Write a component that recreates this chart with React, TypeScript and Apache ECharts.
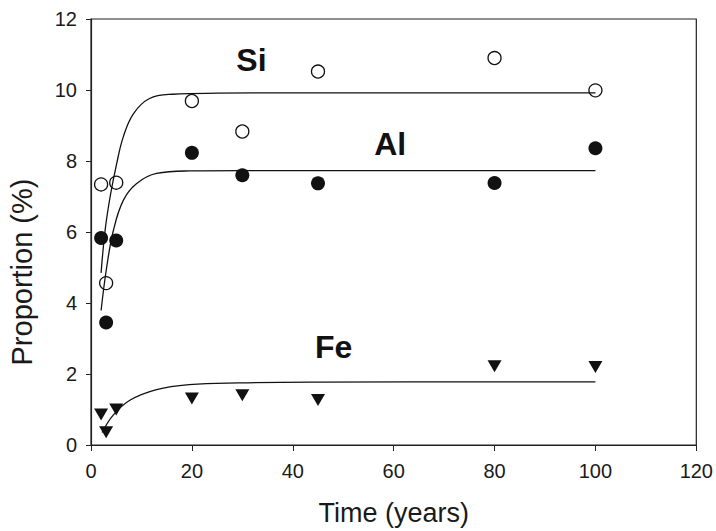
import React, { useEffect, useRef } from "react";
import * as echarts from "echarts";

const xTicks = [0, 20, 40, 60, 80, 100, 120];
const yTicks = [0, 2, 4, 6, 8, 10, 12];

const years = [2, 3, 5, 20, 30, 45, 80, 100];
const siValues = [7.34, 4.56, 7.39, 9.69, 8.83, 10.52, 10.9, 9.99];
const alValues = [5.83, 3.45, 5.76, 8.23, 7.6, 7.37, 7.38, 8.36];
const feValues = [0.86, 0.36, 1.0, 1.31, 1.4, 1.27, 2.22, 2.2];

const siFitX = [2, 2.8, 3.8, 5.1, 6.4, 8.4, 11.6, 16.2, 25, 40, 100];
const siFitY = [4.85, 6.05, 7.0, 7.93, 8.68, 9.33, 9.76, 9.88, 9.91, 9.92, 9.92];
const alFitX = [2, 3.1, 4.45, 6.4, 9, 13, 19.5, 30, 100];
const alFitY = [3.79, 5.0, 6.05, 6.89, 7.36, 7.65, 7.72, 7.73, 7.73];
const feFitX = [2.2, 4.4, 7.7, 13, 19.5, 29.3, 45, 100];
const feFitY = [0.35, 0.84, 1.26, 1.56, 1.7, 1.75, 1.77, 1.78];

const labels = [
  { text: "Si", x: 31.8, y: 10.85 },
  { text: "Al", x: 59.3, y: 8.48 },
  { text: "Fe", x: 48.1, y: 2.76 },
];

const pairs = (xs: number[], ys: number[]) => xs.map((x, i) => [x, ys[i]]);

export default function App() {
  const ref = useRef<HTMLDivElement>(null);
  useEffect(() => {
    if (!ref.current) return;
    const chart = echarts.init(ref.current, undefined, { renderer: "svg" });
    const font = "Liberation Sans, Arial, sans-serif";
    const fitStyle = { color: "#111", width: 1.3 };
    chart.setOption({
      animation: false,
      backgroundColor: "#fff",
      grid: {
        left: 91,
        right: 14,
        top: 19,
        bottom: 86,
        show: true,
        borderColor: "#222",
        borderWidth: 1.2,
        backgroundColor: "transparent",
      },
      xAxis: {
        type: "value",
        min: xTicks[0],
        max: xTicks[xTicks.length - 1],
        interval: xTicks[1] - xTicks[0],
        splitLine: { show: false },
        axisLine: { lineStyle: { color: "#222", width: 1.2 } },
        axisTick: { inside: false, length: 6, lineStyle: { color: "#222" } },
        axisLabel: { color: "#1a1a1a", fontSize: 20, fontFamily: font, margin: 16 },
        name: "Time (years)",
        nameLocation: "middle",
        nameGap: 54,
        nameTextStyle: { color: "#1a1a1a", fontSize: 27, fontFamily: font },
      },
      yAxis: {
        type: "value",
        min: yTicks[0],
        max: yTicks[yTicks.length - 1],
        interval: yTicks[1] - yTicks[0],
        splitLine: { show: false },
        axisLine: { lineStyle: { color: "#222", width: 1.2 } },
        axisTick: { inside: false, length: 5, lineStyle: { color: "#222" } },
        axisLabel: { color: "#1a1a1a", fontSize: 20, fontFamily: font, margin: 14 },
      },
      graphic: [
        {
          type: "text",
          x: 22,
          y: 272,
          rotation: Math.PI / 2,
          style: {
            text: "Proportion (%)",
            fill: "#1a1a1a",
            fontSize: 29,
            fontFamily: font,
            align: "center",
            verticalAlign: "middle",
          },
        },
      ],
      series: [
        {
          type: "line",
          data: pairs(siFitX, siFitY),
          smooth: 0.4,
          showSymbol: false,
          lineStyle: fitStyle,
          silent: true,
        },
        {
          type: "line",
          data: pairs(alFitX, alFitY),
          smooth: 0.4,
          showSymbol: false,
          lineStyle: fitStyle,
          silent: true,
        },
        {
          type: "line",
          data: pairs(feFitX, feFitY),
          smooth: 0.4,
          showSymbol: false,
          lineStyle: fitStyle,
          silent: true,
        },
        {
          name: "Si",
          type: "scatter",
          data: pairs(years, siValues),
          symbol: "circle",
          symbolSize: 13,
          itemStyle: { color: "#fff", borderColor: "#111", borderWidth: 1.3, opacity: 1 },
        },
        {
          name: "Al",
          type: "scatter",
          data: pairs(years, alValues),
          symbol: "circle",
          symbolSize: 14,
          itemStyle: { color: "#111", opacity: 1 },
        },
        {
          name: "Fe",
          type: "scatter",
          data: pairs(years, feValues),
          symbol: "triangle",
          symbolRotate: 180,
          symbolSize: [14, 12],
          itemStyle: { color: "#111", opacity: 1 },
        },
        {
          type: "scatter",
          data: labels.map((l) => [l.x, l.y]),
          symbolSize: 0,
          silent: true,
          itemStyle: { opacity: 1 },
          label: {
            show: true,
            position: "inside",
            formatter: (p: any) => labels[p.dataIndex].text,
            color: "#111",
            fontSize: 32,
            fontWeight: "bold",
            fontFamily: font,
          },
        },
      ],
    });
    return () => chart.dispose();
  }, []);
  return (
    <div
      ref={ref}
      style={{ position: "fixed", left: 0, top: 0, width: 716, height: 531, background: "#fff" }}
    />
  );
}
